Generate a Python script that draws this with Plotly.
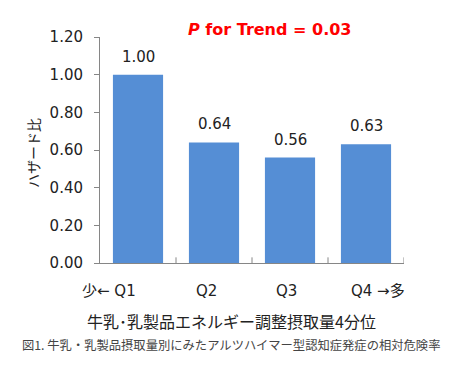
import plotly.graph_objects as go

categories = ["Q1", "Q2", "Q3", "Q4"]
hazard_ratios = [1.00, 0.64, 0.56, 0.63]
bar_labels = ["1.00", "0.64", "0.56", "0.63"]
tick_labels = ["少← Q1", "Q2", "Q3", "Q4 →多"]
y_ticks = [0.0, 0.2, 0.4, 0.6, 0.8, 1.0, 1.2]

FONT = "DejaVu Sans, Noto Sans CJK JP, sans-serif"
JFONT = "Noto Sans CJK JP, sans-serif"

fig = go.Figure()
fig.add_trace(go.Bar(
    x=categories, y=hazard_ratios, width=0.66,
    marker=dict(color="#558ED5", line=dict(width=0)),
    hoverinfo="skip",
))

ann = []
for c, v, t in zip(categories, hazard_ratios, bar_labels):
    ann.append(dict(x=c, y=v, xref="x", yref="y", text=t, showarrow=False,
                    yanchor="bottom", yshift=7,
                    font=dict(family=FONT, size=15, color="#222")))

# category tick labels
tick_specs = [("right", 0), ("center", -8), ("center", -4), ("left", -17)]
for c, t, (anc, sh) in zip(categories, tick_labels, tick_specs):
    ann.append(dict(x=c, y=-0.124, xref="x", yref="paper", text=t, showarrow=False,
                    xanchor=anc, yanchor="middle", xshift=sh,
                    font=dict(family=FONT, size=15, color="#222")))

ann.append(dict(x=0.559, y=1.031, xref="paper", yref="paper",
                text="<b><i>P</i> for Trend = 0.03</b>", showarrow=False,
                xanchor="center", yanchor="middle",
                font=dict(family=FONT, size=16, color="#FF0000")))
ann.append(dict(x=-0.22, y=0.487, xref="paper", yref="paper", text="ハザード比",
                textangle=-90, showarrow=False, xanchor="center", yanchor="middle",
                font=dict(family=JFONT, size=14, color="#222")))
ann.append(dict(x=0.431, y=-0.257, xref="paper", yref="paper",
                text="牛乳･乳製品エネルギー調整摂取量4分位", showarrow=False,
                xanchor="center", yanchor="middle",
                font=dict(family=JFONT, size=16, color="#222")))
ann.append(dict(x=0.43, y=-0.363, xref="paper", yref="paper",
                text="図1. 牛乳・乳製品摂取量別にみたアルツハイマー型認知症発症の相対危険率",
                showarrow=False, xanchor="center", yanchor="middle",
                font=dict(family=JFONT, size=12.3, color="#444")))

# the page body has an 8px default margin, so the figure is 8px smaller
fig.update_layout(
    width=452, height=362,
    margin=dict(l=92, r=56, t=29, b=107),
    paper_bgcolor="white", plot_bgcolor="white",
    showlegend=False,
    annotations=ann,
    xaxis=dict(range=[-0.5, 3.5], showticklabels=False, showline=True,
               linecolor="#868686", linewidth=1, showgrid=False,
               ticks="", zeroline=False, fixedrange=True),
    yaxis=dict(range=[0, 1.2], tickvals=y_ticks, tickformat=".2f",
               showline=True, linecolor="#868686", linewidth=1,
               ticks="outside", ticklen=5, tickcolor="#868686",
               ticklabelstandoff=8,
               showgrid=False, zeroline=False,
               tickfont=dict(family=FONT, size=15, color="#222"), fixedrange=True),
)

# inside ticks at category boundaries on the x axis
for b in [0.5, 1.5, 2.5, 3.5]:
    fig.add_shape(type="line", xref="x", yref="paper", x0=b, x1=b, y0=0, y1=0.025,
                  line=dict(color="#868686", width=1))

fig.write_html("out.html")
